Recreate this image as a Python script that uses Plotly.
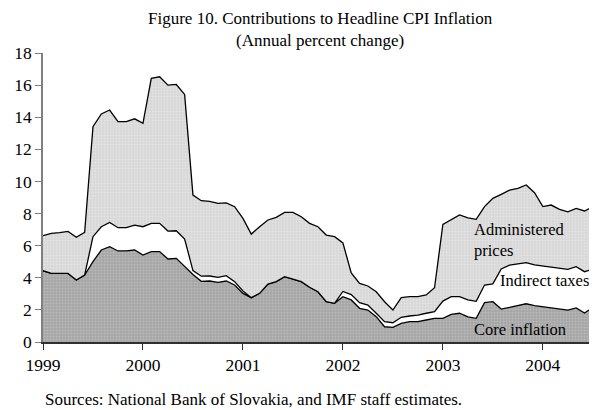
import plotly.graph_objects as go

# months since Jan 1999 (monthly data, Jan 1999 .. Aug 2004)
months = list(range(68))

core = [4.44, 4.27, 4.27, 4.27, 3.86, 4.17, 5.00, 5.73, 5.94, 5.67, 5.67, 5.73,
        5.42, 5.63, 5.63, 5.17, 5.21, 4.69, 4.20, 3.78, 3.80, 3.71, 3.80, 3.55,
        3.03, 2.76, 3.03, 3.61, 3.76, 4.07, 3.92, 3.76, 3.41, 3.13, 2.51, 2.41,
        2.82, 2.62, 2.10, 1.99, 1.58, 0.95, 0.91, 1.16, 1.27, 1.27, 1.37, 1.47,
        1.47, 1.72, 1.79, 1.56, 1.47, 2.45, 2.51, 2.05, 2.15, 2.25, 2.38, 2.27,
        2.20, 2.17, 2.10, 1.99, 2.12, 1.80, 2.15, 2.30]

core_plus_taxes = [4.44, 4.27, 4.27, 4.27, 3.86, 4.17, 6.56, 7.18, 7.45, 7.12, 7.12, 7.28,
                   7.18, 7.39, 7.39, 6.91, 6.93, 6.41, 4.45, 4.10, 4.11, 4.03, 4.13, 3.76,
                   3.18, 2.76, 3.03, 3.61, 3.76, 4.07, 3.92, 3.76, 3.41, 3.13, 2.51, 2.41,
                   3.15, 2.95, 2.45, 2.30, 1.79, 1.27, 1.20, 1.54, 1.62, 1.68, 1.79, 1.89,
                   2.55, 2.82, 2.82, 2.62, 2.53, 3.55, 3.62, 4.55, 4.79, 4.86, 4.94, 4.80,
                   4.73, 4.69, 4.59, 4.53, 4.69, 4.38, 4.53, 4.00]

headline = [6.62, 6.77, 6.81, 6.89, 6.52, 6.83, 13.41, 14.20, 14.45, 13.72, 13.72, 13.90,
            13.62, 16.42, 16.52, 16.00, 16.04, 15.42, 9.15, 8.80, 8.76, 8.63, 8.67, 8.43,
            7.70, 6.72, 7.18, 7.60, 7.76, 8.07, 8.07, 7.80, 7.39, 7.18, 6.66, 6.56,
            6.17, 4.30, 3.65, 3.49, 3.13, 2.51, 1.99, 2.76, 2.82, 2.82, 2.93, 3.38,
            7.33, 7.60, 7.91, 7.73, 7.64, 8.43, 8.95, 9.20, 9.46, 9.57, 9.78, 9.30,
            8.43, 8.53, 8.26, 8.11, 8.32, 8.16, 8.43, 7.40]

indirect_taxes = [round(m - c, 2) for m, c in zip(core_plus_taxes, core)]
administered = [round(h - m, 2) for h, m in zip(headline, core_plus_taxes)]

year_ticks = [0, 12, 24, 36, 48, 60]
year_labels = ["1999", "2000", "2001", "2002", "2003", "2004"]

font_family = "Liberation Serif, Times New Roman, serif"
line_style = dict(color="black", width=1.3)

fig = go.Figure()
fig.add_trace(go.Scatter(
    x=months, y=core, stackgroup="cpi", mode="lines", line=line_style,
    fillcolor="#a9a9a9",
    fillpattern=dict(shape=".", bgcolor="#a4a4a4", fgcolor="#d0d0d0", size=3, solidity=0.35),
    name="Core inflation"))
fig.add_trace(go.Scatter(
    x=months, y=indirect_taxes, stackgroup="cpi", mode="lines", line=line_style,
    fillcolor="white", name="Indirect taxes"))
fig.add_trace(go.Scatter(
    x=months, y=administered, stackgroup="cpi", mode="lines", line=line_style,
    fillcolor="#dcdcdc",
    fillpattern=dict(shape=".", bgcolor="#d6d6d6", fgcolor="#f2f2f2", size=3, solidity=0.35),
    name="Administered prices"))

# series labels inside the chart
labels = [
    (51.5, 6.38, "Administered<br>prices"),
    (54.6, 3.8, "Indirect taxes"),
    (51.5, 0.81, "Core inflation"),
]
for x, y, txt in labels:
    fig.add_annotation(x=x, y=y, text=txt, showarrow=False, xanchor="left",
                       align="left", font=dict(size=16.5, color="black"))

fig.add_annotation(x=0.5, y=1.0, xref="paper", yref="paper", yshift=46, yanchor="top",
                   text="Figure 10. Contributions to Headline CPI Inflation<br>(Annual percent change)",
                   showarrow=False, font=dict(size=17, color="black"))
fig.add_annotation(x=0, y=0, xref="paper", yref="paper", yshift=-46, xshift=0,
                   xanchor="left", yanchor="top", showarrow=False,
                   text="Sources: National Bank of Slovakia, and IMF staff estimates.",
                   font=dict(size=17, color="black"))

# page body adds an 8px margin, so the figure is a little smaller than the window
fig.update_layout(
    width=589, height=402,
    margin=dict(l=35, r=0, t=45, b=68),
    paper_bgcolor="white", plot_bgcolor="white",
    showlegend=False,
    font=dict(family=font_family, color="black"),
    xaxis=dict(range=[0, 66.5], tickvals=year_ticks, ticktext=year_labels,
               automargin=False,
               showgrid=False, zeroline=False, showline=True, linecolor="#303030",
               linewidth=1.5, ticks="outside", ticklen=6, tickcolor="#303030",
               tickfont=dict(size=17.5)),
    yaxis=dict(range=[0, 18], dtick=2, showgrid=False, zeroline=False,
               automargin=False,
               showline=True, linecolor="#808080", linewidth=1.5,
               ticks="outside", ticklen=6, tickcolor="#808080",
               tickfont=dict(size=17.5)),
)

fig.write_html("out.html")
